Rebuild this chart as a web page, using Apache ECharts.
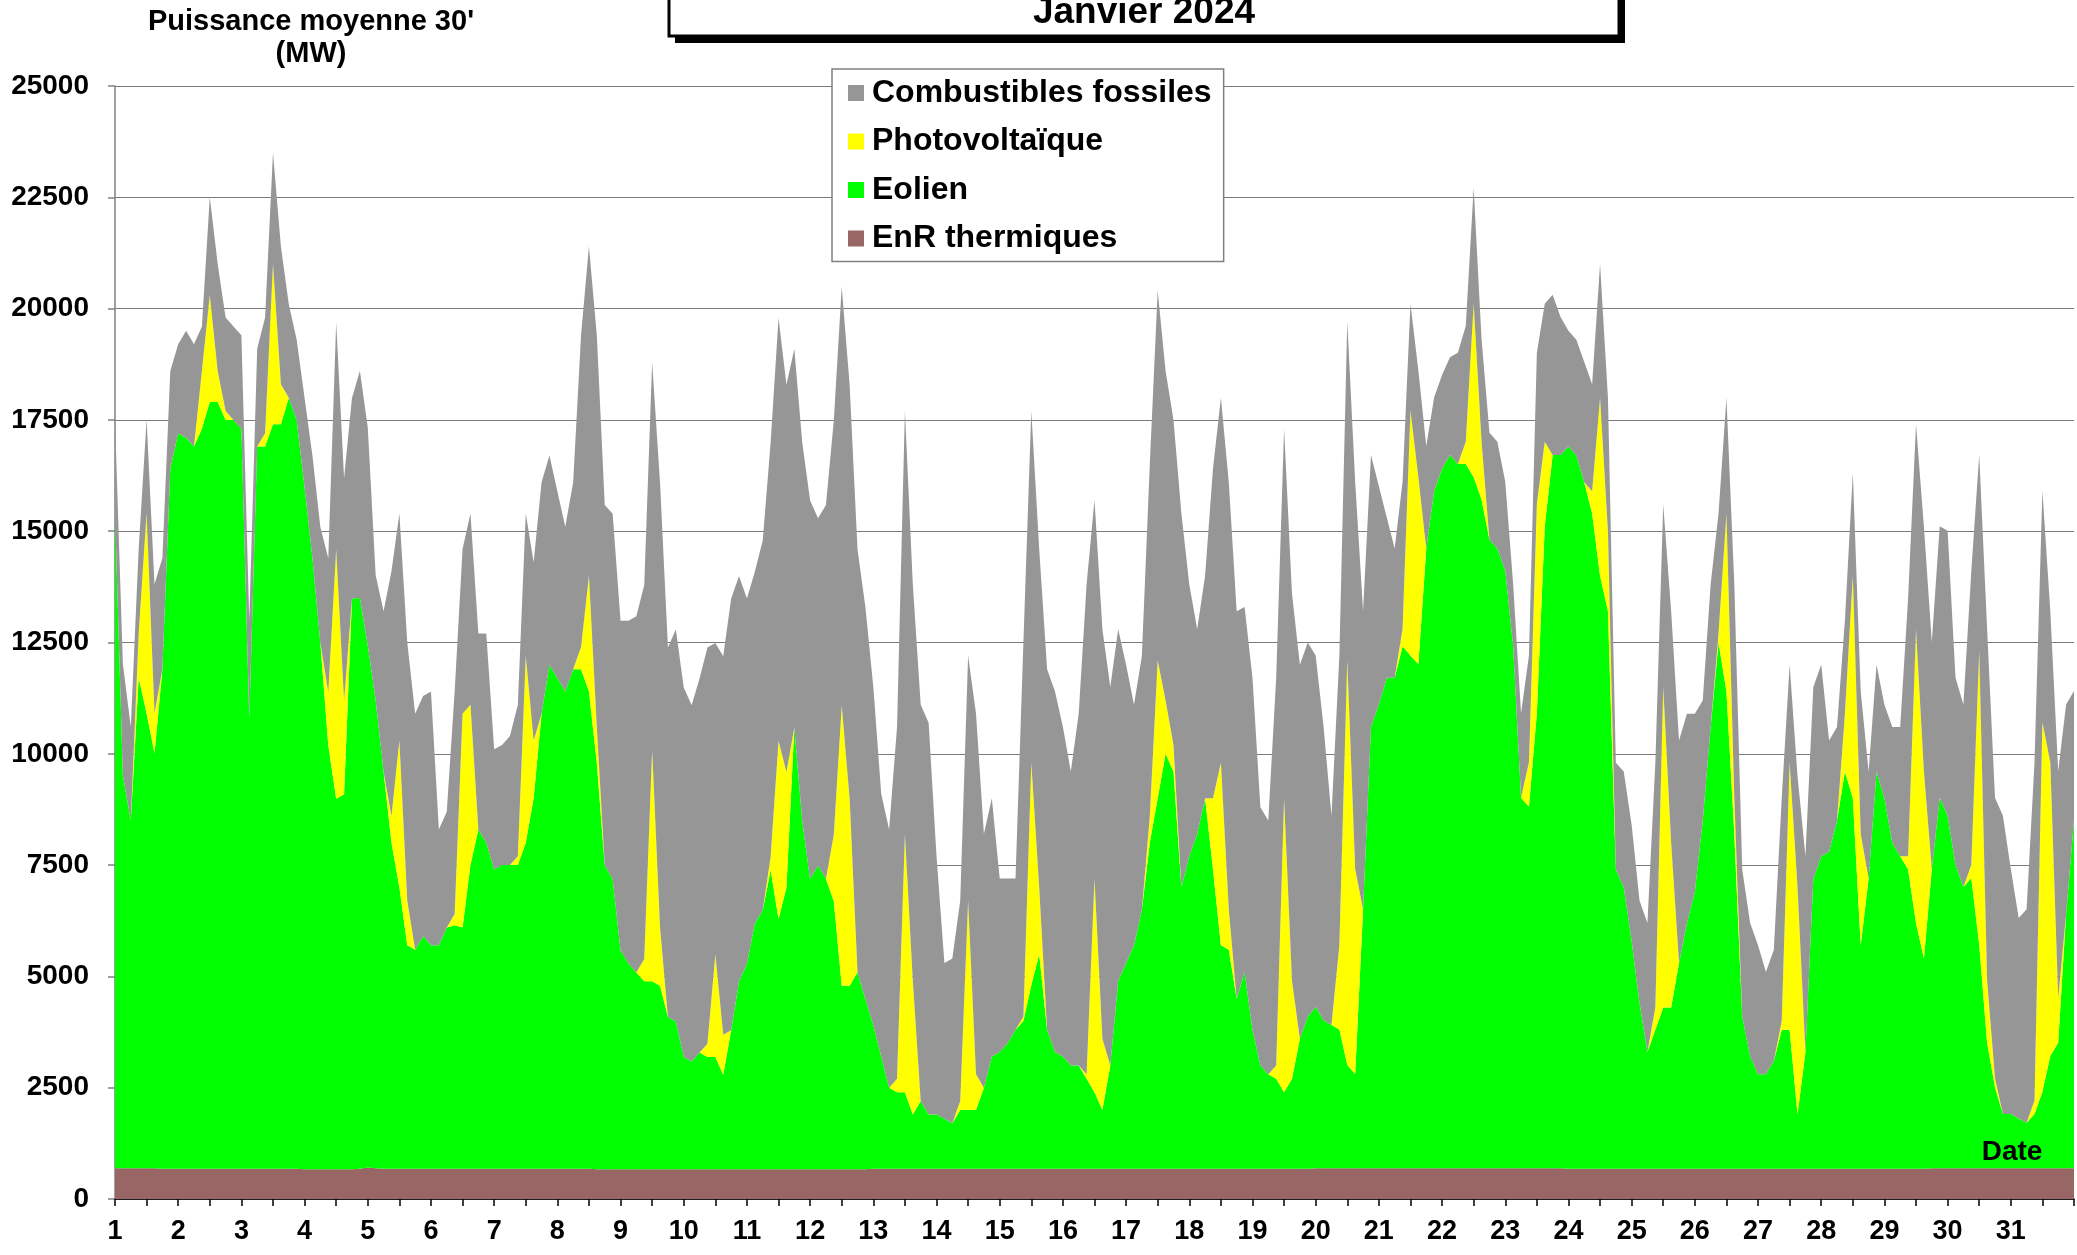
<!DOCTYPE html>
<html><head><meta charset="utf-8">
<script src="https://cdn.jsdelivr.net/npm/echarts@6/dist/echarts.min.js"></script>
<style>html,body{margin:0;padding:0;background:#fff}#c{width:2077px;height:1255px}</style>
</head><body><div id="c"></div>
<script>
// Time step: 3 hours (8 points per day), from 1 Jan 00:00 to 1 Feb 00:00
const POINTS_PER_DAY = 8;
const dayLabels = Array.from({length: 32}, (_, i) => String(i + 1));
const hourLabels = ['00h', '03h', '06h', '09h', '12h', '15h', '18h', '21h'];

// EnR thermiques (MW)
const thermal = [
 690,690,690,690,690,690,680,680, 680,680,680,680,680,680,680,680,
 680,680,680,680,680,680,680,680, 670,670,670,670,670,670,670,680,
 710,690,680,680,680,680,680,680, 680,680,680,680,680,680,680,680,
 680,680,680,680,680,680,680,680, 680,680,680,680,680,670,670,670,
 670,670,670,670,670,670,670,670, 670,670,670,670,670,670,670,670,
 670,670,670,670,670,670,670,670, 670,670,670,670,670,670,670,670,
 680,680,680,680,680,680,680,680, 680,680,680,680,680,680,680,680,
 680,680,680,680,680,680,680,680, 680,680,680,680,680,680,680,680,
 680,680,680,680,680,680,680,680, 680,680,680,680,680,680,680,680,
 680,680,680,680,680,680,680,680, 690,690,690,690,690,690,690,690,
 690,690,690,690,690,690,690,690, 690,690,690,690,690,690,690,690,
 690,690,690,690,690,690,690,690, 680,680,680,680,680,680,680,680,
 680,680,680,680,680,680,680,680, 680,680,680,680,680,680,680,680,
 680,680,680,680,680,680,680,680, 680,680,680,680,680,680,680,680,
 680,680,680,680,680,680,690,690, 690,690,690,690,690,690,690,690,
 690,690,690,690,690,690,690,690,
 690
];

// Eolien (MW)
const wind = [
 14720,8820,7820,11020,10220,9320,11220,15720,
 16520,16420,16220,16620,17220,17220,16820,16820,
 16620,10120,16220,16220,16720,16720,17320,16820,
 15320,13720,11820,9520,8320,8420,12820,12820,
 11720,10520,8920,7320,6320,5020,4920,5220,
 5020,5020,5420,5470,5420,6820,7620,7320,
 6720,6820,6820,6820,7320,8320,10220,11320,
 11020,10720,11220,11220,10720,9120,6820,6520,
 4920,4620,4420,4220,4220,4120,3420,3320,
 2520,2420,2620,2520,2520,2120,3120,4220,
 4620,5520,5820,6720,5620,6320,9920,7820,
 6520,6820,6520,6020,4120,4120,4420,3820,
 3220,2520,1820,1720,1720,1220,1520,1220,
 1220,1120,1020,1320,1320,1320,1820,2520,
 2620,2820,3120,3320,4120,4820,3120,2620,
 2520,2320,2320,2020,1720,1320,2320,4220,
 4620,5020,5820,7320,8320,9320,8920,6320,
 7020,7520,8320,6720,5020,4920,3820,4420,
 3120,2320,2120,2020,1720,2020,2920,3420,
 3620,3320,3220,3120,2320,2120,5820,9920,
 10420,11020,11020,11720,11520,11320,13920,15220,
 15720,16020,15820,15820,15520,15020,14120,13920,
 13420,11720,8320,8120,10220,14420,16020,16020,
 16220,16020,15420,14720,13320,12520,6720,6320,
 5120,3720,2620,3120,3620,3620,4620,5520,
 6220,7820,9920,11820,10720,7520,3420,2520,
 2120,2120,2420,3120,3120,1220,2620,6520,
 7020,7120,7820,8920,8320,5020,6520,8920,
 8320,7320,7020,6720,5520,4720,6720,8320,
 7920,6820,6320,6520,5020,2820,1820,1220,
 1220,1120,1020,1220,1720,2520,2820,5720,
 7820
];

// Photovoltaique (MW)
const pv = [
 0,0,0,1000,4500,900,0,0,
 0,0,0,1300,2400,700,200,0,
 0,0,0,300,3600,900,0,0,
 0,0,0,1200,5600,2100,0,0,
 0,0,0,600,3300,1000,0,0,
 0,0,0,250,4800,3600,0,0,
 0,0,0,200,4200,1300,0,0,
 0,0,0,500,2600,800,0,0,
 0,0,0,500,5200,1300,0,0,
 0,0,0,300,2300,900,0,0,
 0,0,0,300,4000,2600,0,0,
 0,0,0,1500,6300,4200,0,0,
 0,0,0,300,5800,3000,0,0,
 0,0,0,200,4700,800,0,0,
 0,0,0,100,5000,1500,0,0,
 0,0,0,100,4800,1600,0,0,
 0,0,0,600,3100,1200,600,0,
 0,0,0,1600,4100,900,0,0,
 0,0,0,300,6600,2200,0,0,
 0,0,0,1900,9100,4600,0,0,
 0,0,0,400,5500,4200,0,0,
 0,0,0,500,3900,1300,0,0,
 0,0,0,1000,4700,1900,0,0,
 0,0,0,500,4000,1800,0,0,
 0,0,0,500,7200,3700,0,0,
 0,0,0,200,4000,800,0,0,
 0,0,0,200,6000,5100,0,0,
 0,0,0,1300,5000,2500,0,0,
 0,0,0,300,6600,4200,0,0,
 0,0,0,300,6600,1400,200,0,
 0,0,0,300,8300,6600,1000,0,
 0
];

// Combustibles fossiles (MW)
const fossil = [
 2100,2500,2100,1900,2100,2900,2500,2200,
 2000,2400,2300,1000,2200,2400,2100,2100,
 2100,2200,2200,2600,2500,3100,2100,1800,
 2000,2300,2600,3000,5100,5000,4500,5100,
 4900,2800,3600,5500,5100,5800,5300,5400,
 5700,2600,2600,5000,3700,4300,4400,4700,
 2700,2700,2900,3400,3200,4000,5200,4700,
 4200,3700,4200,7000,7400,8800,8100,8200,
 7400,7700,8000,8400,8700,10000,8300,8800,
 8300,8000,8400,8900,7000,8500,9700,9100,
 8200,7900,8300,9300,9500,8700,8500,8500,
 8500,7800,8400,9300,9400,9300,9500,8800,
 7600,5900,5800,7900,9500,8900,8900,8800,
 5800,3500,3700,4500,5500,8100,5700,5800,
 3900,3700,3400,8400,7900,7600,8100,8100,
 7400,6600,7900,11000,8500,9200,8500,7900,
 6700,5400,5700,7900,8300,7400,7300,8400,
 6100,4600,5000,7400,8200,9600,8700,8200,
 7900,5800,5700,8700,8300,8700,8400,8400,
 7900,6600,4700,6500,7600,8700,6700,6100,
 4900,3600,2900,3300,2400,2400,2300,2100,
 2100,2200,2500,2600,2600,2300,2400,2400,
 2000,1400,1900,2400,3400,3100,3600,3100,
 2600,2600,2700,2400,3000,3000,2400,2600,
 2600,2300,2900,5500,4100,5200,5000,4700,
 4000,2700,3200,2700,2600,4800,3300,3000,
 2900,2300,2500,5000,2200,2500,4400,4300,
 4300,2500,2100,2100,2300,3200,2400,2400,
 2100,2600,2900,5800,4600,5500,5100,6100,
 6400,4200,4100,6600,4400,7900,6300,6700,
 5500,4500,4800,7600,5200,3400,5100,4700,
 2900
];

// Time categories: "day|hour" for every 3-hour step
const timeCats = wind.map((_, i) => dayLabels[Math.floor(i / POINTS_PER_DAY)] + '|' + hourLabels[i % POINTS_PER_DAY]);

const yTicks = {min: 0, max: 25000, interval: 2500};
const seriesNames = ['Combustibles fossiles', 'Photovoltaïque', 'Eolien', 'EnR thermiques'];
const colors = {'Combustibles fossiles': '#969696', 'Photovoltaïque': '#ffff00', 'Eolien': '#00ff00', 'EnR thermiques': '#996666'};

const FONT = '"Liberation Sans", Arial, Helvetica, sans-serif';
const LAST = wind.length - 1;

function areaSeries(name, arr) {
  return {
    name, type: 'line', stack: 'total', data: arr,
    symbol: 'none', showSymbol: false, smooth: false,
    color: colors[name],
    lineStyle: {width: 0, color: colors[name]},
    areaStyle: {color: colors[name], opacity: 1},
    itemStyle: {color: colors[name]},
    emphasis: {disabled: true},
    silent: true
  };
}

const chart = echarts.init(document.getElementById('c'), null, {renderer: 'canvas'});
chart.setOption({
  animation: false,
  backgroundColor: '#ffffff',
  grid: {left: 115, right: 3, top: 86, bottom: 56, containLabel: false},
  legend: {
    data: seriesNames,
    orient: 'vertical',
    left: 832, top: 69,
    padding: [8, 12, 7, 16],
    itemWidth: 16, itemHeight: 16, itemGap: 16.5,
    icon: 'rect',
    backgroundColor: '#ffffff',
    borderColor: '#808080', borderWidth: 1.5,
    selectedMode: false,
    textStyle: {fontFamily: FONT, fontWeight: 'bold', fontSize: 32, color: '#000', lineHeight: 32, padding: [0, 0, 0, 3]}
  },
  xAxis: {
    type: 'category', data: timeCats, boundaryGap: false,
    axisLine: {show: true, onZero: false, lineStyle: {color: '#000', width: 1.5}},
    axisTick: {show: true, length: 7, interval: i => i % (POINTS_PER_DAY / 2) === 0, lineStyle: {color: '#000', width: 1.5}},
    splitLine: {show: false},
    axisLabel: {
      margin: 19, fontFamily: FONT, fontWeight: 'bold', fontSize: 27, color: '#000',
      interval: i => i % POINTS_PER_DAY === 0 && i < LAST,
      formatter: v => v.split('|')[0]
    }
  },
  yAxis: {
    type: 'value', min: yTicks.min, max: yTicks.max, interval: yTicks.interval,
    axisLine: {show: true, lineStyle: {color: '#808080', width: 1.5}},
    axisTick: {show: true, length: 7, lineStyle: {color: '#808080', width: 1.5}},
    splitLine: {show: true, lineStyle: {color: '#7a7a7a', width: 1.2}},
    axisLabel: {margin: 26, fontFamily: FONT, fontWeight: 'bold', fontSize: 28, color: '#000', formatter: v => String(v)}
  },
  series: [
    areaSeries('EnR thermiques', thermal),
    areaSeries('Eolien', wind),
    areaSeries('Photovoltaïque', pv),
    areaSeries('Combustibles fossiles', fossil)
  ],
  graphic: [
    {type: 'rect', z: 100, shape: {x: 675, y: -10, width: 950, height: 53}, style: {fill: '#000'}},
    {type: 'rect', z: 101, shape: {x: 669, y: -16, width: 950, height: 52}, style: {fill: '#fff', stroke: '#000', lineWidth: 3}},
    {type: 'text', z: 102, x: 1144, y: 13, style: {text: 'Janvier 2024', font: 'bold 37px ' + FONT, fill: '#000', align: 'center', verticalAlign: 'middle'}},
    {type: 'text', z: 102, x: 311, y: 22, style: {text: "Puissance moyenne 30'", font: 'bold 29px ' + FONT, fill: '#000', align: 'center', verticalAlign: 'middle'}},
    {type: 'text', z: 102, x: 311, y: 54, style: {text: '(MW)', font: 'bold 29px ' + FONT, fill: '#000', align: 'center', verticalAlign: 'middle'}},
    {type: 'text', z: 102, x: 2012, y: 1152, style: {text: 'Date', font: 'bold 28px ' + FONT, fill: '#000', align: 'center', verticalAlign: 'middle'}}
  ]
});
</script>
</body></html>
